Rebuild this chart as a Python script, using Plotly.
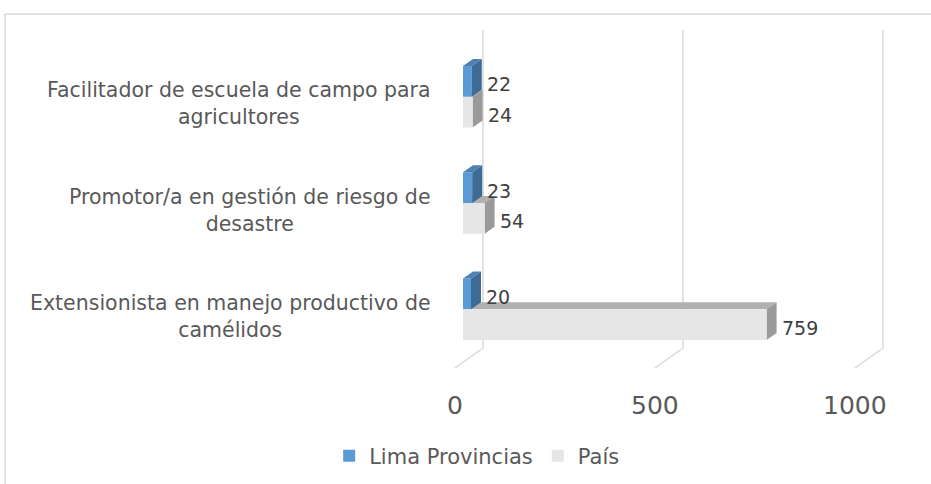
import plotly.graph_objects as go

# ---------------- data ----------------
categories = [
    "Extensionista en manejo productivo de<br>camélidos",
    "Promotor/a en gestión de riesgo de<br>desastre",
    "Facilitador de escuela de campo para<br>agricultores",
]
lima_provincias = [20, 23, 22]
pais = [759, 54, 24]
series_names = ["Lima Provincias", "País"]
tick_values = [0, 500, 1000]

# ---------------- geometry (pixels) ----------------
W, H = 931, 484
X0_PX = 463.0        # front face of value 0
SX = 0.4             # px per unit
Y0_PX = 309.25       # centre of first category
SY = 106.25          # px per category
BAR_W = 0.29         # bar thickness in category units
DX_PX, DY_PX = 10.0, 7.0      # bar depth
DX = DX_PX / SX
DY = DY_PX / SY
GRID_BACK_PX = 20.0  # back wall offset
FLOOR_FRONT_PX = -8.0

x_range = [(0 - X0_PX) / SX, (W - X0_PX) / SX]
y_range = [(Y0_PX - H) / SY, Y0_PX / SY]


def ypx(p):
    return (Y0_PX - p) / SY


FONT = "DejaVu Sans"
BLUE, BLUE_TOP, BLUE_SIDE = "#5B9BD5", "#4A82B8", "#3D6B94"
GREY, GREY_TOP, GREY_SIDE = "#E7E6E6", "#B0B0B0", "#9A9A9A"
GRID = "#D9D9D9"

fig = go.Figure()

fig.add_trace(go.Bar(
    y=categories, x=lima_provincias, orientation="h", name=series_names[0],
    offset=0, width=BAR_W, marker=dict(color=BLUE, line=dict(width=0)),
    hoverinfo="x+name",
))
fig.add_trace(go.Bar(
    y=categories, x=pais, orientation="h", name=series_names[1],
    offset=-BAR_W, width=BAR_W, marker=dict(color=GREY, line=dict(width=0)),
    hoverinfo="x+name",
))

shapes = []

# back-wall gridlines and floor lines
for v in tick_values:
    xb = v + GRID_BACK_PX / SX
    xf = v + FLOOR_FRONT_PX / SX
    shapes.append(dict(type="line", xref="x", yref="y", x0=xb, x1=xb,
                       y0=ypx(30), y1=ypx(348), line=dict(color=GRID, width=1.5),
                       layer="below"))
    shapes.append(dict(type="line", xref="x", yref="y", x0=xb, x1=xf,
                       y0=ypx(348), y1=ypx(368), line=dict(color=GRID, width=1.5),
                       layer="below"))


def faces(v, bottom, top_col, side_col, layer):
    top = bottom + BAR_W
    out = []
    # top face
    out.append(dict(type="path", xref="x", yref="y", layer=layer,
                    path=f"M0,{top} L{v},{top} L{v+DX},{top+DY} L{DX},{top+DY} Z",
                    fillcolor=top_col, line=dict(width=0)))
    # right face
    out.append(dict(type="path", xref="x", yref="y", layer=layer,
                    path=f"M{v},{top} L{v+DX},{top+DY} L{v+DX},{bottom+DY} L{v},{bottom} Z",
                    fillcolor=side_col, line=dict(width=0)))
    return out


for i, v in enumerate(pais):
    shapes += faces(v, i - BAR_W, GREY_TOP, GREY_SIDE, "between")
for i, v in enumerate(lima_provincias):
    shapes += faces(v, i, BLUE_TOP, BLUE_SIDE, "above")

# outer chart border
shapes.append(dict(type="rect", xref="paper", yref="paper",
                   x0=5 / W, x1=1.01, y0=-0.01, y1=1 - 14 / H,
                   line=dict(color=GRID, width=1.5), fillcolor="rgba(0,0,0,0)",
                   layer="below"))

annotations = []
# category labels
for i, c in enumerate(categories):
    annotations.append(dict(x=433 / W, xref="paper", y=i, yref="y",
                            text=c, showarrow=False, xanchor="right",
                            yanchor="middle", align="center", yshift=-7,
                            font=dict(family=FONT, size=20.5, color="#595959")))
# value labels
for i, v in enumerate(lima_provincias):
    annotations.append(dict(x=v, xref="x", y=i + BAR_W / 2, yref="y",
                            text=str(v), showarrow=False, xanchor="left",
                            yanchor="middle", xshift=DX_PX + 3, yshift=-3,
                            font=dict(family=FONT, size=19, color="#404040")))
for i, v in enumerate(pais):
    annotations.append(dict(x=v, xref="x", y=i - BAR_W / 2, yref="y",
                            text=str(v), showarrow=False, xanchor="left",
                            yanchor="middle", xshift=DX_PX + 3, yshift=-3,
                            font=dict(family=FONT, size=19, color="#404040")))
# axis tick labels
for v in tick_values:
    annotations.append(dict(x=v + FLOOR_FRONT_PX / SX, xref="x",
                            y=ypx(405), yref="y", text=str(v), showarrow=False,
                            xanchor="center", yanchor="middle",
                            font=dict(family=FONT, size=25, color="#595959")))

fig.update_layout(
    width=W, height=H, autosize=False,
    margin=dict(l=0, r=0, t=0, b=0),
    paper_bgcolor="white", plot_bgcolor="rgba(0,0,0,0)",
    barmode="overlay",
    xaxis=dict(range=x_range, visible=False, fixedrange=True),
    yaxis=dict(range=y_range, visible=False, type="category",
               categoryorder="array", categoryarray=categories, fixedrange=True),
    shapes=shapes, annotations=annotations,
    showlegend=True,
    legend=dict(orientation="h", x=0.512, xanchor="center", y=1 - 456 / H,
                yanchor="middle", font=dict(family=FONT, size=21, color="#595959"),
                bgcolor="rgba(0,0,0,0)"),
    font=dict(family=FONT),
)

fig.write_html("out.html", config={"displayModeBar": False},
               post_script="document.body.style.margin='0';document.body.style.overflow='hidden';")
